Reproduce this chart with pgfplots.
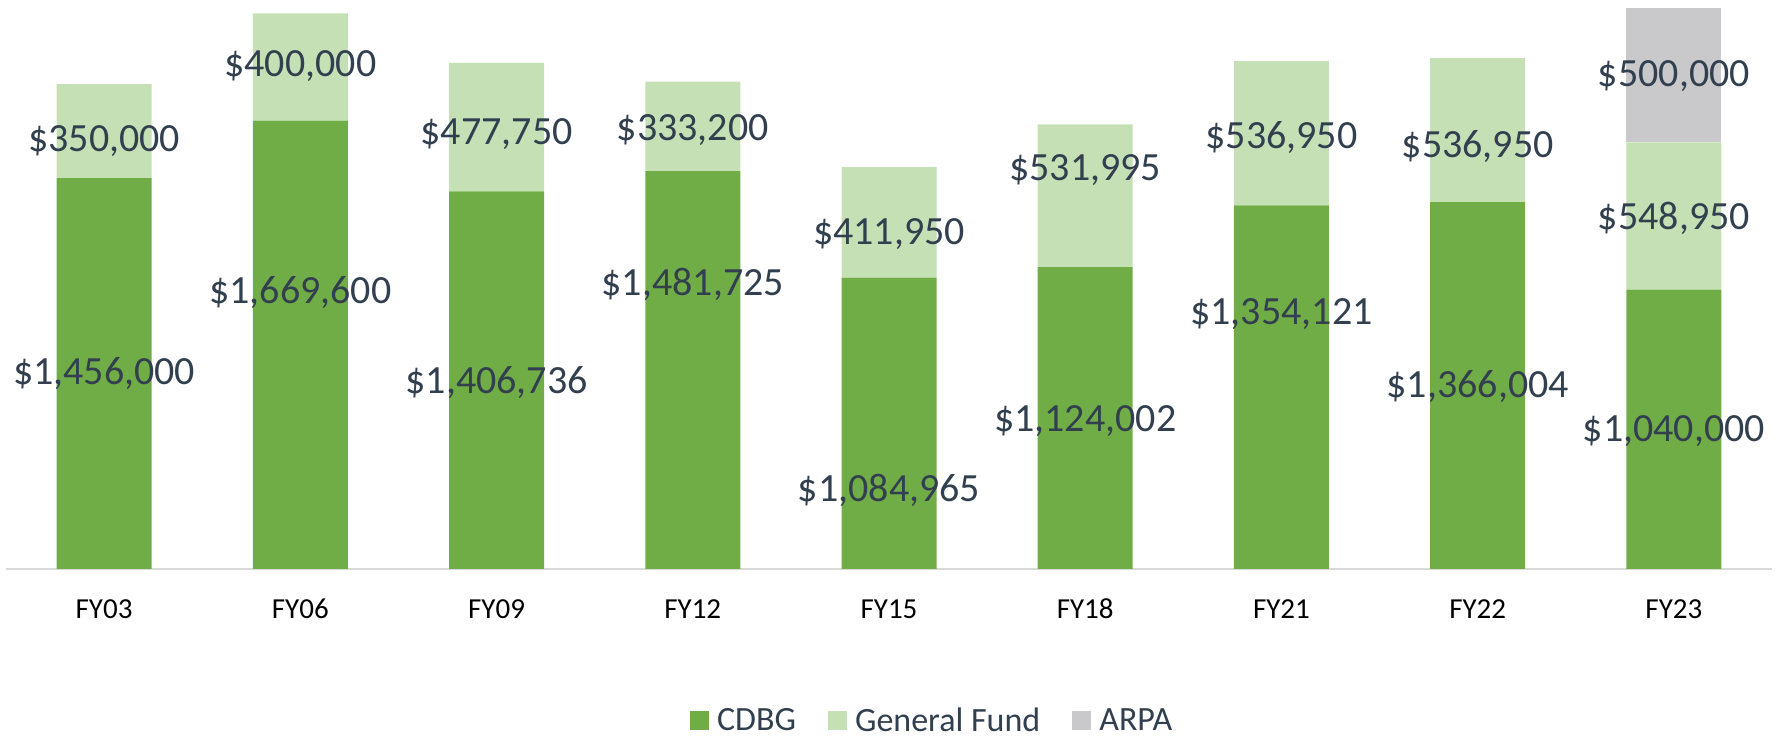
\documentclass[border=0pt]{standalone}
\usepackage{pgfplots}
\usepackage{pgfplotstable}
\pgfplotsset{compat=1.18}
\usepackage{fontspec}
\setmainfont{Carlito}
\definecolor{cdbg}{HTML}{70AD47}
\definecolor{gfund}{HTML}{C5E0B4}
\definecolor{arpa}{HTML}{C9C9CB}
\definecolor{lbl}{HTML}{323F4F}
\definecolor{axl}{HTML}{D9D9D9}

\pgfplotstableread{
x cdbg gf arpa
0 1456000 350000 0
1 1669600 400000 0
2 1406736 477750 0
3 1481725 333200 0
4 1084965 411950 0
5 1124002 531995 0
6 1354121 536950 0
7 1366004 536950 0
8 1040000 548950 500000
}\funding

\pgfplotstableread{
x y label
0 726000 {\$1,456,000}
1 1028000 {\$1,669,600}
2 696000 {\$1,406,736}
3 1061000 {\$1,481,725}
4 294000 {\$1,084,965}
5 551000 {\$1,124,002}
6 950000 {\$1,354,121}
7 678000 {\$1,366,004}
8 514000 {\$1,040,000}
0 1594000 {\$350,000}
1 1873000 {\$400,000}
2 1620000 {\$477,750}
3 1635000 {\$333,200}
4 1248000 {\$411,950}
5 1486000 {\$531,995}
6 1605000 {\$536,950}
7 1572000 {\$536,950}
8 1307000 {\$548,950}
8 1836000 {\$500,000}
}\labels

\begin{document}
\begin{tikzpicture}
\pgfplotsset{
  base/.style={
    scale only axis,
    width=883pt, height=284.5pt,
    at={(0,0)}, anchor=south west,
    xmin=-0.5, xmax=8.5,
    ymin=0, ymax=2119000,
  }
}
\begin{axis}[base,
  ybar stacked,
  bar width=47.5pt,
  axis x line=bottom,
  axis y line=none,
  x axis line style={draw=axl, line width=0.6pt, -},
  xtick={0,...,8},
  xticklabels={FY03,FY06,FY09,FY12,FY15,FY18,FY21,FY22,FY23},
  major tick length=0pt,
  xticklabel style={anchor=center, yshift=-20pt, font=\fontsize{14.5}{17}\selectfont, text=black},
  ytick=\empty,
  legend columns=-1,
  legend style={draw=none, fill=none, at={(0.525,-0.267)}, anchor=center,
    font=\fontsize{17}{20}\selectfont, text=lbl,
    /tikz/every odd column/.append style={column sep=2pt},
    /tikz/every even column/.append style={column sep=14pt}},
  legend image code/.code={\fill[#1] (0pt,-4.75pt) rectangle (9.5pt,4.75pt);},
]
\addplot[fill=cdbg, draw=none] table[x=x, y=cdbg] {\funding};
\addplot[fill=gfund, draw=none] table[x=x, y=gf] {\funding};
\addplot[fill=arpa, draw=none] table[x=x, y=arpa] {\funding};
\legend{CDBG, General Fund, ARPA}
\end{axis}
\begin{axis}[base, hide axis, clip=false]
\addplot[only marks, mark=none,
  nodes near coords,
  point meta=explicit symbolic,
  nodes near coords align={center},
  every node near coord/.append style={anchor=center, text=lbl, font=\fontsize{20}{24}\selectfont, inner sep=0pt},
] table[x=x, y=y, meta=label] {\labels};
\end{axis}
\pgfresetboundingbox
\path[use as bounding box] (-3pt,-86.5pt) rectangle (886pt,284.5pt);
\end{tikzpicture}
\end{document}
